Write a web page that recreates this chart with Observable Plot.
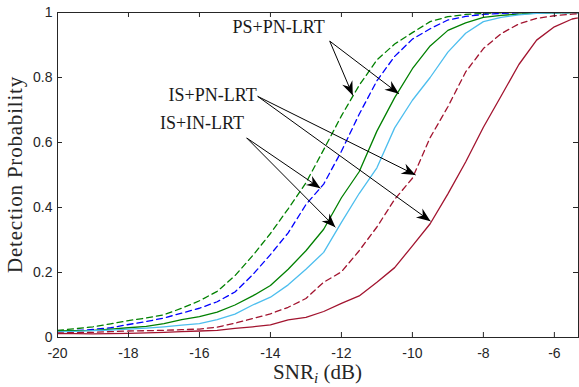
<!DOCTYPE html>
<html>
<head>
<meta charset="utf-8">
<script src="https://cdn.jsdelivr.net/npm/d3@7"></script>
<script src="https://cdn.jsdelivr.net/npm/@observablehq/plot@0.6"></script>
<style>
  html, body { margin: 0; padding: 0; background: #fff; }
</style>
</head>
<body>
<div id="chart"></div>
<script>
// ---------- data ----------
const snr = [-20, -19.5, -19, -18.5, -18, -17.5, -17, -16.5, -16, -15.5, -15, -14.5, -14, -13.5, -13, -12.5, -12, -11.5, -11, -10.5, -10, -9.5, -9, -8.5, -8, -7.5, -7, -6.5, -6, -5.5, -5];

// PS+PN-LRT (green)
const psPnDashed = [0.022, 0.027, 0.033, 0.042, 0.052, 0.060, 0.070, 0.090, 0.113, 0.142, 0.190, 0.252, 0.320, 0.396, 0.476, 0.578, 0.682, 0.776, 0.854, 0.903, 0.938, 0.972, 0.987, 0.994, 0.997, 0.999, 1, 1, 1, 1, 1];
const psPnSolid  = [0.020, 0.021, 0.022, 0.026, 0.030, 0.034, 0.043, 0.055, 0.064, 0.078, 0.100, 0.128, 0.160, 0.210, 0.267, 0.333, 0.430, 0.510, 0.635, 0.738, 0.827, 0.897, 0.945, 0.968, 0.985, 0.991, 0.995, 0.998, 0.999, 1, 1];
// IS+IN-LRT (blue)
const isInDashed = [0.018, 0.021, 0.025, 0.030, 0.040, 0.049, 0.060, 0.075, 0.090, 0.110, 0.140, 0.193, 0.255, 0.322, 0.409, 0.472, 0.573, 0.687, 0.790, 0.865, 0.918, 0.950, 0.977, 0.988, 0.994, 0.997, 0.999, 1, 1, 1, 1];
const isInSolid  = [0.017, 0.019, 0.021, 0.023, 0.026, 0.029, 0.033, 0.038, 0.043, 0.055, 0.072, 0.100, 0.124, 0.162, 0.210, 0.262, 0.354, 0.443, 0.522, 0.645, 0.730, 0.800, 0.878, 0.936, 0.972, 0.985, 0.993, 0.997, 0.999, 1, 1];
// IS+PN-LRT (dark red)
const isPnDashed = [0.014, 0.015, 0.016, 0.018, 0.020, 0.021, 0.022, 0.024, 0.026, 0.032, 0.044, 0.058, 0.073, 0.093, 0.120, 0.170, 0.202, 0.267, 0.340, 0.425, 0.490, 0.615, 0.710, 0.817, 0.889, 0.935, 0.965, 0.982, 0.990, 0.995, 0.997];
const isPnSolid  = [0.012, 0.012, 0.011, 0.012, 0.013, 0.014, 0.016, 0.018, 0.020, 0.022, 0.028, 0.033, 0.039, 0.054, 0.062, 0.080, 0.105, 0.128, 0.170, 0.215, 0.282, 0.350, 0.442, 0.540, 0.647, 0.743, 0.840, 0.915, 0.956, 0.980, 0.990];

const xTicks = [-20, -18, -16, -14, -12, -10, -8, -6];
const yTicks = [0, 0.2, 0.4, 0.6, 0.8, 1];

// annotations
const annoText = ["PS+PN-LRT", "IS+PN-LRT", "IS+IN-LRT"];
const annoX = [-13.77, -15.63, -15.93];
const annoY = [0.954, 0.745, 0.658];

const arrowX1 = [-12.33, -12.33, -14.36, -14.36, -14.67, -14.67];
const arrowY1 = [0.912, 0.912, 0.742, 0.742, 0.614, 0.614];
const arrowX2 = [-11.68, -10.38, -9.91, -9.49, -12.59, -12.17];
const arrowY2 = [0.745, 0.750, 0.500, 0.358, 0.459, 0.339];

// ---------- layout ----------
const W = 579, H = 387, ML = 57, MR = 1, MT = 12, MB = 50;
const xDomain = [-20, -5.32];
const yDomain = [0, 1];
const sx = d3.scaleLinear(xDomain, [ML, W - MR]);
const sy = d3.scaleLinear(yDomain, [H - MB, MT]);
const tickLen = 5;
const tx = tickLen * (xDomain[1] - xDomain[0]) / (W - ML - MR);
const ty = tickLen * (yDomain[1] - yDomain[0]) / (H - MT - MB);

const GREEN = "#008000", BLUE = "#0000ff", LBLUE = "#4DBEEE", RED = "#A2142F", AX = "#262626";
const DASH = "6,4";

const series = [
  {values: psPnDashed, stroke: GREEN, dash: DASH},
  {values: isInDashed, stroke: BLUE, dash: DASH},
  {values: psPnSolid, stroke: GREEN, dash: null},
  {values: isInSolid, stroke: LBLUE, dash: null},
  {values: isPnDashed, stroke: RED, dash: DASH},
  {values: isPnSolid, stroke: RED, dash: null}
];

const arrows = arrowX1.map((_, i) => ({
  x1: arrowX1[i], y1: arrowY1[i], x2: arrowX2[i], y2: arrowY2[i],
  angle: Math.atan2(sy(arrowY2[i]) - sy(arrowY1[i]), sx(arrowX2[i]) - sx(arrowX1[i])) * 180 / Math.PI
}));
const annos = annoText.map((t, i) => ({t, x: annoX[i], y: annoY[i]}));

// filled "vback2" arrow head, tip at origin, pointing to +x
const arrowHead = {
  draw(ctx) {
    ctx.moveTo(0, 0);
    ctx.lineTo(-14, -5.5);
    ctx.lineTo(-9.5, 0);
    ctx.lineTo(-14, 5.5);
    ctx.closePath();
  }
};

const lineMarks = series.map(s => Plot.line(
  snr.map((x, i) => ({x, y: s.values[i]})),
  {x: "x", y: "y", stroke: s.stroke, strokeWidth: 1.3, strokeDasharray: s.dash, clip: true}
));

const plot = Plot.plot({
  width: W, height: H,
  marginLeft: ML, marginRight: MR, marginTop: MT, marginBottom: MB,
  style: {fontFamily: "Liberation Sans, Arial, sans-serif", fontSize: "14px", color: AX, background: "#fff", overflow: "visible"},
  x: {domain: xDomain},
  y: {domain: yDomain},
  marks: [
    ...lineMarks,
    Plot.link(arrows, {x1: "x1", y1: "y1", x2: "x2", y2: "y2", stroke: "black", strokeWidth: 1}),
    Plot.dot(arrows, {x: "x2", y: "y2", symbol: arrowHead, rotate: "angle", fill: "black", stroke: "none", r: 5}),
    Plot.text(annos, {x: "x", y: "y", text: "t", fontFamily: "Liberation Serif, Times New Roman, serif", fontSize: 18, fill: "#1a1a1a", textAnchor: "middle"}),
    // inward ticks on all four sides
    Plot.ruleX(xTicks, {x: d => d, y1: yDomain[0], y2: yDomain[0] + ty, stroke: AX}),
    Plot.ruleX(xTicks, {x: d => d, y1: yDomain[1] - ty, y2: yDomain[1], stroke: AX}),
    Plot.ruleY(yTicks, {y: d => d, x1: xDomain[0], x2: xDomain[0] + tx, stroke: AX}),
    Plot.ruleY(yTicks, {y: d => d, x1: xDomain[1] - tx, x2: xDomain[1], stroke: AX}),
    Plot.frame({stroke: AX, strokeWidth: 1}),
    Plot.axisX({ticks: xTicks, tickSize: 0, tickPadding: 11, tickFormat: d => String(d), label: null}),
    Plot.axisY({ticks: yTicks, tickSize: 0, tickPadding: 5, tickFormat: d => String(d), label: null})
  ]
});

const svg = d3.select(plot);
const xl = svg.append("text")
  .attr("x", (ML + W - MR) / 2).attr("y", H - 8)
  .attr("text-anchor", "middle")
  .attr("font-family", "Liberation Serif, Times New Roman, serif")
  .attr("font-size", 21).attr("fill", AX)
  .style("white-space", "pre");
xl.append("tspan").text("SNR");
xl.append("tspan").attr("font-style", "italic").attr("font-size", 15).attr("dy", 4).text("i");
xl.append("tspan").attr("dy", -4).text(" (dB)");

svg.append("text")
  .attr("transform", `translate(22,${(MT + H - MB) / 2}) rotate(-90)`)
  .attr("text-anchor", "middle")
  .attr("font-family", "Liberation Serif, Times New Roman, serif")
  .attr("font-size", 21).attr("letter-spacing", 0.8).attr("fill", AX)
  .text("Detection Probability");

document.getElementById("chart").appendChild(plot);
</script>
</body>
</html>
